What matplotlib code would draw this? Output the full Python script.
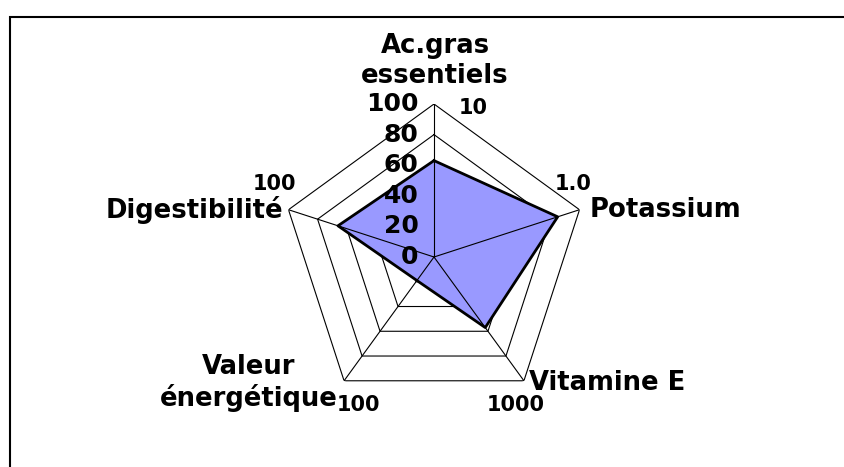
import numpy as np
import matplotlib
matplotlib.use("Agg")
import matplotlib.pyplot as plt
from matplotlib.patches import Rectangle

categories = ["Ac.gras\nessentiels", "Potassium", "Vitamine E", "Valeur\nénergétique", "Digestibilité"]
values = [63, 85, 57, 19, 66]
scale_max_labels = ["10", "1.0", "1000", "100", "100"]
radial_ticks = [0, 20, 40, 60, 80, 100]

W, H, DPI = 845, 467, 100
fig = plt.figure(figsize=(W / DPI, H / DPI), dpi=DPI)
fig.patch.set_facecolor("white")

cx, cy, R = 434, 257, 153
ax = fig.add_axes([(cx - R) / W, (H - cy - R) / H, 2 * R / W, 2 * R / H], projection="polar")
ax.set_theta_offset(np.pi / 2)
ax.set_theta_direction(-1)
ax.set_ylim(0, 100)
ax.set_axis_off()

n = len(categories)
theta = np.arange(n) * 2 * np.pi / n
theta_c = np.append(theta, theta[0])

# pentagon grid
for lev in radial_ticks[1:]:
    ax.plot(theta_c, [lev] * (n + 1), color="black", lw=0.8, zorder=1)
for t in theta:
    ax.plot([t, t], [0, 100], color="black", lw=0.8, zorder=3)

vals_c = np.append(values, values[0])
ax.fill(theta_c, vals_c, facecolor="#9999FF", edgecolor="none", zorder=2)
ax.plot(theta_c, vals_c, color="black", lw=2.0, zorder=4)

bold = dict(fontweight="bold", family="DejaVu Sans", color="black")

# radial tick labels
for lev in radial_ticks:
    ax.annotate(str(lev), xy=(0, lev), xytext=(-11, 0), textcoords="offset points",
                ha="right", va="center", fontsize=18, zorder=5, **bold)

# category labels (figure pixel positions)
cat_pos = [(435, 61, "center"), (590, 210, "left"), (529, 383, "left"), (249, 383, "center"), (283, 210, "right")]
for lab, (x, y, ha) in zip(categories, cat_pos):
    fig.text(x / W, 1 - y / H, lab, ha=ha, va="center", fontsize=18.6, linespacing=1.2, **bold)

# scale max labels
max_pos = [(473, 108), (573, 184), (516, 405), (358, 405), (274, 184)]
for lab, (x, y) in zip(scale_max_labels, max_pos):
    fig.text(x / W, 1 - y / H, lab, ha="center", va="center", fontsize=15, **bold)

fig.add_artist(Rectangle((10.5 / W, -0.1), 2, 1 - 16.5 / H + 0.1, transform=fig.transFigure,
                         fill=False, edgecolor="black", lw=1.5))

fig.savefig("out.png", dpi=DPI)
